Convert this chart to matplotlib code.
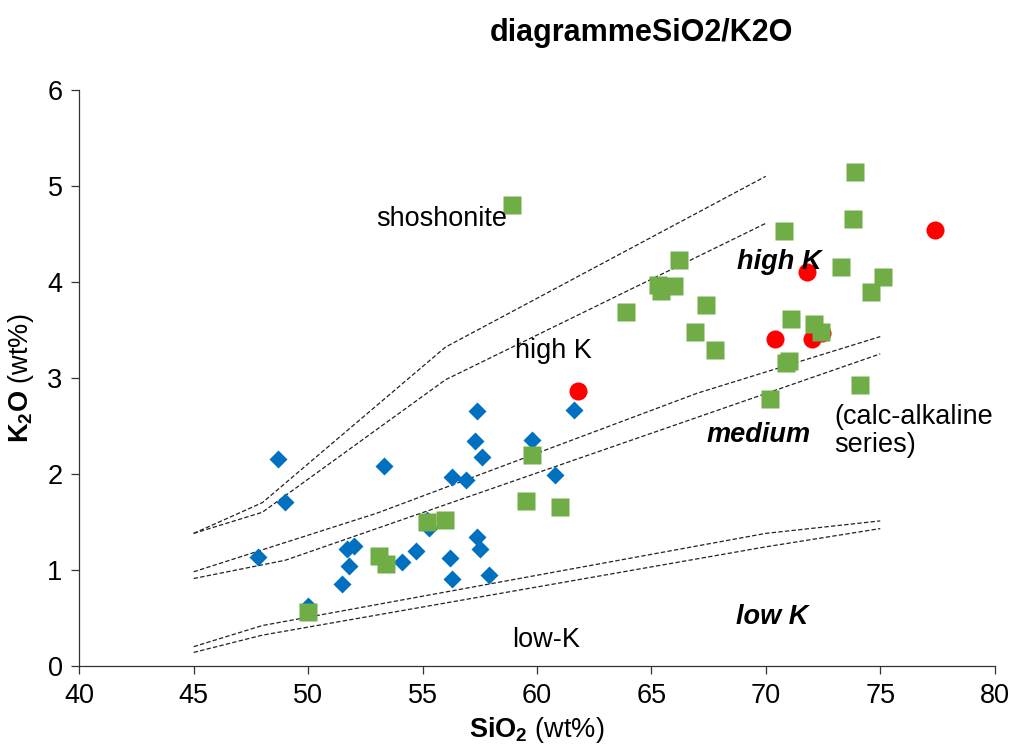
import numpy as np
import matplotlib
matplotlib.use('Agg')
import matplotlib.pyplot as plt

plt.rcParams['font.family'] = ['Liberation Sans', 'DejaVu Sans']
plt.rcParams['mathtext.fontset'] = 'custom'
plt.rcParams['mathtext.rm'] = 'Liberation Sans'
plt.rcParams['mathtext.bf'] = 'Liberation Sans:bold'

# blue diamonds
blue_x = [47.8, 48.7, 49.0, 50.0, 51.5, 51.7, 51.8, 52.0, 53.3, 54.1, 54.7, 55.2, 55.3,
          56.2, 56.3, 56.3, 56.9, 57.4, 57.3, 57.6, 57.4, 57.5, 57.9, 59.8, 60.8, 61.6]
blue_y = [1.13, 2.15, 1.71, 0.62, 0.85, 1.22, 1.04, 1.25, 2.08, 1.08, 1.20, 1.52, 1.44,
          1.12, 0.90, 1.97, 1.94, 2.65, 2.34, 2.18, 1.34, 1.22, 0.95, 2.35, 1.99, 2.67]

# green squares
green_x = [58.9, 50.0, 53.1, 53.4, 55.2, 56.0, 59.5, 59.8, 61.0, 63.9, 65.3, 65.4, 66.0,
           66.2, 67.4, 66.9, 67.8, 70.8, 71.1, 72.1, 72.4, 71.0, 70.9, 70.2, 73.9, 73.8,
           73.3, 75.1, 74.6, 74.1]
green_y = [4.80, 0.56, 1.14, 1.06, 1.50, 1.52, 1.72, 2.20, 1.65, 3.69, 3.97, 3.90, 3.96,
           4.23, 3.76, 3.48, 3.29, 4.53, 3.61, 3.56, 3.48, 3.18, 3.16, 2.78, 5.14, 4.66,
           4.16, 4.05, 3.89, 2.93]

# red circles
red_x = [61.8, 70.4, 72.0, 71.8, 77.4, 72.45]
red_y = [2.86, 3.40, 3.40, 4.10, 4.54, 3.47]

# boundary lines (two schemes per boundary)
sho_a_x = [45, 48, 56, 70]
sho_a_y = [1.38, 1.70, 3.32, 5.10]
sho_b_x = [45, 48, 56, 70]
sho_b_y = [1.38, 1.60, 2.98, 4.61]
med_a_x = [45, 53, 67, 75]
med_a_y = [0.98, 1.59, 2.84, 3.43]
med_b_x = [45, 49, 75]
med_b_y = [0.91, 1.10, 3.25]
low_a_x = [45, 48, 70, 75]
low_a_y = [0.20, 0.42, 1.38, 1.51]
low_b_x = [45, 48, 70, 75]
low_b_y = [0.14, 0.32, 1.24, 1.43]

fig = plt.figure(figsize=(10.16, 7.49), dpi=100)
ax = fig.add_axes([0.078, 0.111, 0.901, 0.769])

for lx, ly in [(sho_a_x, sho_a_y), (sho_b_x, sho_b_y), (med_a_x, med_a_y),
               (med_b_x, med_b_y), (low_a_x, low_a_y), (low_b_x, low_b_y)]:
    ax.plot(lx, ly, color='#222222', lw=0.9, dashes=(3.5, 1.8), zorder=2)

ax.plot(blue_x, blue_y, 'D', color='#0070C0', ms=8.8, mec='none', zorder=3)
ax.plot(red_x, red_y, 'o', color='#FF0000', ms=13, mec='none', zorder=4)
ax.plot(green_x, green_y, 's', color='#70AD47', ms=13.5, mec='none', zorder=5)

fs = 19.5
ax.text(55.85, 4.66, 'shoshonite', fontsize=fs, ha='center', va='center', zorder=6)
ax.text(60.7, 3.28, 'high K', fontsize=fs, ha='center', va='center', zorder=6)
ax.text(60.4, 0.27, 'low-K', fontsize=fs, ha='center', va='center', zorder=6)
ax.text(73.0, 2.45, '(calc-alkaline\nseries)', fontsize=fs, ha='left', va='center',
        linespacing=1.1, zorder=6)
ax.text(70.6, 4.21, 'high K', fontsize=fs, ha='center', va='center',
        fontweight='bold', fontstyle='italic', zorder=6)
ax.text(69.7, 2.40, 'medium', fontsize=fs, ha='center', va='center',
        fontweight='bold', fontstyle='italic', zorder=6)
ax.text(70.3, 0.51, 'low K', fontsize=fs, ha='center', va='center',
        fontweight='bold', fontstyle='italic', zorder=6)

ax.set_xlim(40, 80)
ax.set_ylim(0, 6)
ax.set_xticks(np.arange(40, 81, 5))
ax.set_yticks(np.arange(0, 7, 1))
for s in ['top', 'right']:
    ax.spines[s].set_visible(False)
for s in ['left', 'bottom']:
    ax.spines[s].set_color('#333333')
    ax.spines[s].set_linewidth(0.9)
ax.tick_params(direction='out', length=6, width=0.9, color='#333333',
               labelsize=fs, pad=6)

ax.set_xlabel(r'$\mathbf{SiO_2}$ (wt%)', fontsize=fs)
ax.xaxis.set_label_coords(0.5, -0.085)
ax.set_ylabel(r'$\mathbf{K_2O}$ (wt%)', fontsize=fs)
ax.yaxis.set_label_coords(-0.047, 0.5)

fig.text(0.631, 0.956, 'diagrammeSiO2/K2O', fontsize=22, fontweight='bold',
         ha='center', va='center')

fig.savefig('out.png', dpi=100)
